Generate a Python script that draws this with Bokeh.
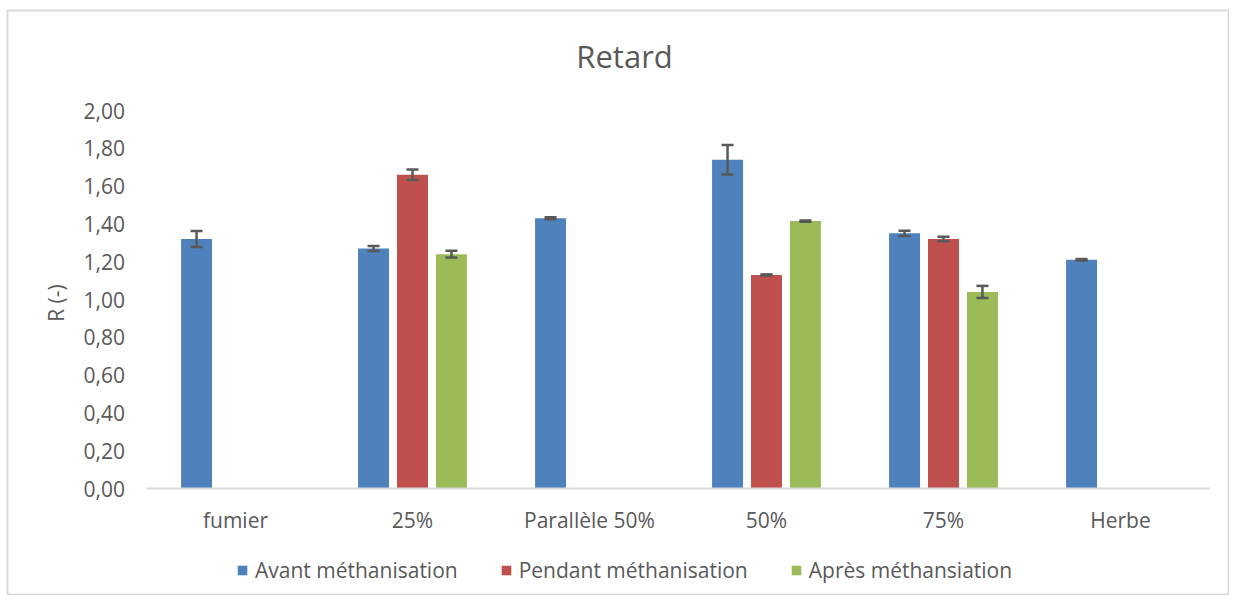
from bokeh.plotting import figure
from bokeh.models import (ColumnDataSource, Range1d, FixedTicker, CustomJSTickFormatter,
                          Label, Legend, LegendItem)
from bokeh.transform import dodge
from bokeh.embed import file_html
from bokeh.resources import INLINE

categories = ["fumier", "25%", "Parallèle 50%", "50%", "75%", "Herbe"]
avant = [1.32, 1.27, 1.43, 1.74, 1.35, 1.21]
avant_err = [0.042, 0.013, 0.005, 0.078, 0.014, 0.004]
pendant = [None, 1.66, None, 1.13, 1.32, None]
pendant_err = [None, 0.028, None, 0.003, 0.012, None]
apres = [None, 1.24, None, 1.415, 1.04, None]
apres_err = [None, 0.018, None, 0.003, 0.032, None]
series_names = ["Avant méthanisation", "Pendant méthanisation", "Après méthansiation"]
colors = ["#4F81BD", "#C0504D", "#9BBB59"]
y_ticks = [0.0, 0.2, 0.4, 0.6, 0.8, 1.0, 1.2, 1.4, 1.6, 1.8, 2.0]

FONT = "Open Sans"
TXT = "#595959"

# category slot i occupies [i, i+1]; centre at i + 0.5
xpos = [i + 0.5 for i in range(len(categories))]

p = figure(width=1229, height=595, x_range=Range1d(-0.7881, 6.1158), y_range=Range1d(-0.5661, 2.5291),
           output_backend="svg", toolbar_location=None, tools="",
           min_border_left=7, min_border_right=0, min_border_top=10, min_border_bottom=0)
p.outline_line_color = "#d9d9d9"
p.outline_line_width = 2
p.xgrid.grid_line_color = None
p.ygrid.grid_line_color = None

offsets = [-0.22, 0.0, 0.22]
bw = 0.175
cap = 0.034
items = []
for name, vals, errs, col, off in zip(series_names, [avant, pendant, apres],
                                      [avant_err, pendant_err, apres_err], colors, offsets):
    xs = [x for x, v in zip(xpos, vals) if v is not None]
    v = [x for x in vals if x is not None]
    e = [x for x in errs if x is not None]
    src = ColumnDataSource(dict(xi=xs, val=v, lo=[a - b for a, b in zip(v, e)],
                                hi=[a + b for a, b in zip(v, e)]))
    r = p.vbar(x=dodge("xi", off), top="val", bottom=0, width=bw,
               source=src, fill_color=col, line_color=None)
    items.append(LegendItem(label=name, renderers=[r]))
    p.segment(x0=dodge("xi", off), x1=dodge("xi", off),
              y0="lo", y1="hi", source=src, line_color=TXT, line_width=2.5)
    for yy in ["lo", "hi"]:
        p.segment(x0=dodge("xi", off - cap), x1=dodge("xi", off + cap),
                  y0=yy, y1=yy, source=src, line_color=TXT, line_width=2.5)

# title
title = Label(x=2.698, y=2.286, text="Retard", text_align="center", text_baseline="middle",
              text_font=FONT, text_font_size="31px", text_color=TXT)
p.add_layout(title)

# y axis
p.yaxis.fixed_location = 0
p.yaxis.ticker = FixedTicker(ticks=y_ticks)
p.yaxis.formatter = CustomJSTickFormatter(code="return tick.toFixed(2).replace('.', ',');")
p.yaxis.axis_line_color = None
p.yaxis.major_tick_line_color = None
p.yaxis.minor_tick_line_color = None
p.yaxis.major_label_standoff = 16
p.yaxis.major_label_text_font = FONT
p.yaxis.major_label_text_font_size = "21px"
p.yaxis.major_label_text_color = TXT
p.yaxis.axis_label = "R (-)"
p.yaxis.axis_label_text_font = FONT
p.yaxis.axis_label_text_font_size = "21px"
p.yaxis.axis_label_text_font_style = "normal"
p.yaxis.axis_label_text_color = TXT
p.yaxis.axis_label_standoff = 10

# x axis
p.xaxis.fixed_location = 0
p.xaxis.bounds = (0, len(categories))
p.xaxis.ticker = FixedTicker(ticks=xpos)
p.xaxis.major_label_overrides = {x: c for x, c in zip(xpos, categories)}
p.xaxis.axis_line_color = "#d9d9d9"
p.xaxis.axis_line_width = 2
p.xaxis.major_tick_line_color = None
p.xaxis.minor_tick_line_color = None
p.xaxis.major_label_standoff = 11
p.xaxis.major_label_text_font = FONT
p.xaxis.major_label_text_font_size = "21px"
p.xaxis.major_label_text_color = TXT

legend = Legend(items=items, orientation="horizontal", location=(229, 11),
                glyph_width=12, glyph_height=12, label_standoff=7, spacing=42,
                padding=0, margin=0, border_line_alpha=0, background_fill_alpha=0,
                label_text_font=FONT, label_text_font_size="21px", label_text_color=TXT)
p.add_layout(legend)

open("out.html", "w").write(file_html(p, INLINE))
